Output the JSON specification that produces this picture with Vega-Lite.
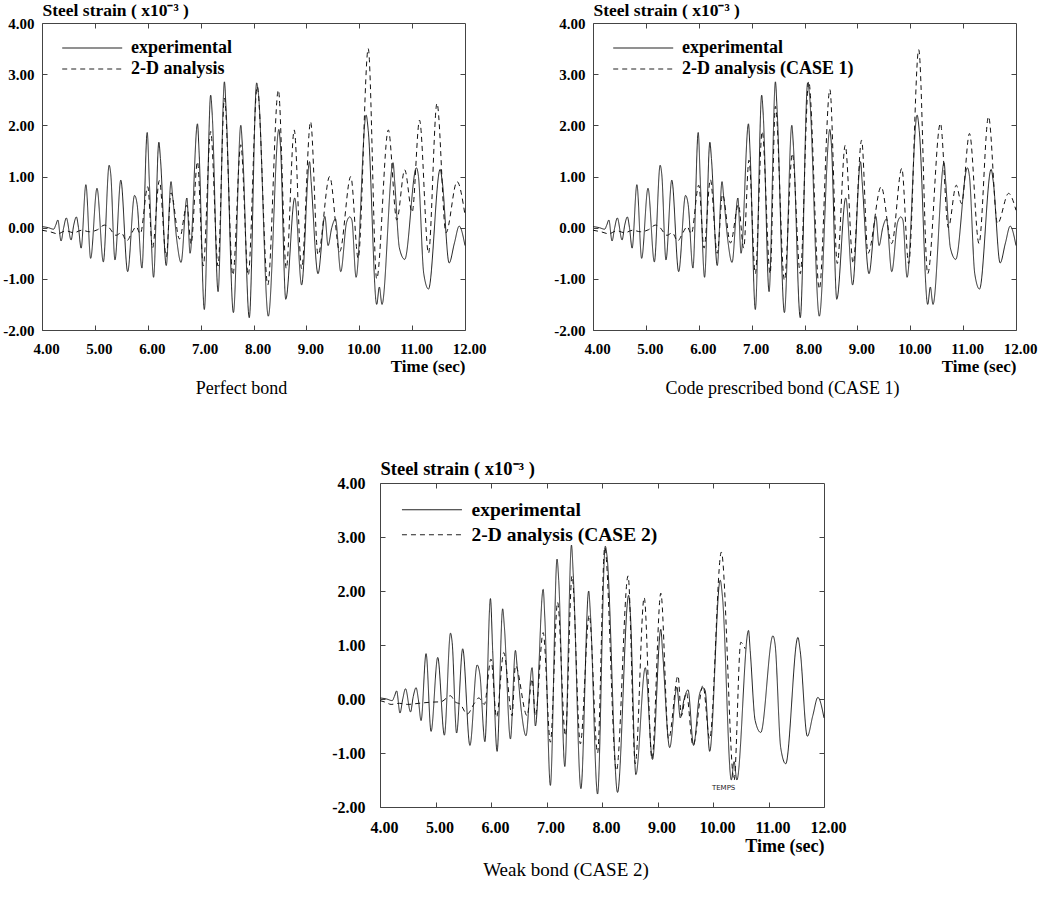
{
  "$schema": "https://vega.github.io/schema/vega-lite/v6.json",
  "background": "white",
  "padding": {"left": 2, "top": 0, "right": 2, "bottom": 0},
  "config": {
    "view": {"stroke": "#444", "strokeWidth": 1},
    "axis": {"grid": false, "domain": false, "tickSize": -5, "tickColor": "#444", "labelFont": "Liberation Serif", "labelFontWeight": "bold", "labelColor": "#000", "labelFlush": false, "labelOverlap": false, "titleFont": "Liberation Serif", "titleFontWeight": "bold", "titleColor": "#000"},
    "legend": {"orient": "top-left", "symbolType": "M-0.6,0H6.9", "symbolSize": 256, "symbolStrokeWidth": 1.2, "symbolStrokeColor": "#222", "labelFont": "Liberation Serif", "labelFontWeight": "bold", "labelColor": "#000", "labelFontSize": 18, "labelLimit": 400, "labelOffset": 55, "offset": 16, "padding": 0, "rowPadding": 3},
    "title": {"font": "Liberation Serif", "fontWeight": "normal", "color": "#000", "orient": "bottom", "fontSize": 18, "anchor": "middle"}
  },
  "datasets": {
    "exp": [
      {"t":4.00,"v":0.02},{"t":4.12,"v":0.00},{"t":4.22,"v":-0.03},{"t":4.26,"v":0.05},{"t":4.30,"v":0.15},{"t":4.36,"v":-0.26},{"t":4.41,"v":0.0},{"t":4.46,"v":0.19},{"t":4.55,"v":-0.24},{"t":4.60,"v":0.05},{"t":4.65,"v":0.21},{"t":4.69,"v":0.0},{"t":4.74,"v":-0.40},{"t":4.83,"v":0.84},{"t":4.92,"v":-0.60},{"t":5.04,"v":0.77},{"t":5.16,"v":-0.67},{"t":5.27,"v":1.22},{"t":5.30,"v":1.05},{"t":5.38,"v":-0.63},{"t":5.49,"v":0.93},{"t":5.62,"v":-0.86},{"t":5.75,"v":0.63},{"t":5.80,"v":0.45},{"t":5.89,"v":-0.79},{"t":5.99,"v":1.86},{"t":6.03,"v":0.9},{"t":6.11,"v":-0.97},{"t":6.21,"v":1.67},{"t":6.24,"v":1.35},{"t":6.35,"v":-0.74},{"t":6.44,"v":0.90},{"t":6.47,"v":0.62},{"t":6.55,"v":-0.25},{"t":6.63,"v":-0.68},{"t":6.74,"v":0.58},{"t":6.80,"v":-0.50},{"t":6.94,"v":2.03},{"t":6.97,"v":1.5},{"t":7.07,"v":-1.60},{"t":7.19,"v":2.59},{"t":7.22,"v":2.2},{"t":7.33,"v":-1.25},{"t":7.45,"v":2.85},{"t":7.48,"v":2.35},{"t":7.62,"v":-1.66},{"t":7.76,"v":2.00},{"t":7.79,"v":1.6},{"t":7.92,"v":-1.76},{"t":8.06,"v":2.83},{"t":8.09,"v":2.65},{"t":8.28,"v":-1.73},{"t":8.48,"v":1.92},{"t":8.51,"v":1.6},{"t":8.61,"v":-1.40},{"t":8.78,"v":0.58},{"t":8.91,"v":-1.12},{"t":9.06,"v":1.29},{"t":9.09,"v":0.9},{"t":9.22,"v":-0.90},{"t":9.35,"v":0.22},{"t":9.41,"v":-0.35},{"t":9.48,"v":0.0},{"t":9.55,"v":0.17},{"t":9.65,"v":-0.86},{"t":9.76,"v":0.1},{"t":9.82,"v":0.21},{"t":9.86,"v":0.15},{"t":9.94,"v":-0.97},{"t":10.13,"v":2.20},{"t":10.17,"v":1.9},{"t":10.33,"v":-1.50},{"t":10.38,"v":-1.16},{"t":10.43,"v":-1.50},{"t":10.64,"v":1.27},{"t":10.67,"v":0.9},{"t":10.76,"v":-0.4},{"t":10.86,"v":-0.62},{"t":11.08,"v":1.17},{"t":11.12,"v":1.0},{"t":11.22,"v":-0.9},{"t":11.31,"v":-1.20},{"t":11.53,"v":1.14},{"t":11.57,"v":0.9},{"t":11.70,"v":-0.69},{"t":11.80,"v":-0.3},{"t":11.89,"v":0.03},{"t":12.00,"v":-0.35}
    ],
    "a0": [
      {"t":4.00,"v":-0.05},{"t":4.15,"v":-0.08},{"t":4.30,"v":-0.12},{"t":4.45,"v":-0.06},{"t":4.60,"v":-0.10},{"t":4.75,"v":-0.05},{"t":4.90,"v":-0.08},{"t":5.05,"v":-0.04},{"t":5.18,"v":0.05},{"t":5.25,"v":0.02},{"t":5.40,"v":-0.15},{"t":5.50,"v":-0.10},{"t":5.60,"v":-0.26},{"t":5.70,"v":-0.10},{"t":5.78,"v":0.02},{"t":5.86,"v":-0.12},{"t":6.00,"v":0.80},{"t":6.09,"v":-0.40},{"t":6.22,"v":0.92},{"t":6.35,"v":-0.57},{"t":6.44,"v":0.68},{"t":6.60,"v":-0.22},{"t":6.74,"v":0.44},{"t":6.82,"v":-0.32},{"t":6.94,"v":1.29},{"t":7.05,"v":-0.75},{"t":7.19,"v":1.88},{"t":7.33,"v":-0.75},{"t":7.45,"v":2.53},{"t":7.61,"v":-0.93},{"t":7.76,"v":1.62},{"t":7.90,"v":-0.93},{"t":8.07,"v":2.76},{"t":8.27,"v":-1.12},{"t":8.47,"v":2.69},{"t":8.62,"v":-0.80},{"t":8.77,"v":1.91},{"t":8.91,"v":-0.80},{"t":9.08,"v":2.07},{"t":9.22,"v":-0.53},{"t":9.44,"v":1.00},{"t":9.63,"v":-0.47},{"t":9.84,"v":1.00},{"t":9.98,"v":-0.60},{"t":10.17,"v":3.50},{"t":10.33,"v":-1.00},{"t":10.55,"v":1.91},{"t":10.71,"v":0.15},{"t":10.86,"v":1.13},{"t":11.00,"v":0.30},{"t":11.14,"v":2.10},{"t":11.31,"v":-0.50},{"t":11.47,"v":2.43},{"t":11.64,"v":-0.10},{"t":11.85,"v":0.90},{"t":12.00,"v":0.25}
    ],
    "a1": [
      {"t":4.00,"v":-0.05},{"t":4.15,"v":-0.08},{"t":4.30,"v":-0.12},{"t":4.45,"v":-0.06},{"t":4.60,"v":-0.10},{"t":4.75,"v":-0.05},{"t":4.90,"v":-0.08},{"t":5.05,"v":-0.04},{"t":5.18,"v":0.05},{"t":5.25,"v":0.02},{"t":5.40,"v":-0.15},{"t":5.50,"v":-0.10},{"t":5.60,"v":-0.26},{"t":5.70,"v":-0.10},{"t":5.78,"v":0.02},{"t":5.86,"v":-0.12},{"t":6.00,"v":0.83},{"t":6.10,"v":-0.40},{"t":6.22,"v":0.94},{"t":6.35,"v":-0.50},{"t":6.45,"v":0.65},{"t":6.60,"v":-0.30},{"t":6.75,"v":0.45},{"t":6.85,"v":-0.40},{"t":6.95,"v":1.32},{"t":7.07,"v":-0.90},{"t":7.20,"v":1.88},{"t":7.35,"v":-0.90},{"t":7.45,"v":2.37},{"t":7.62,"v":-1.03},{"t":7.77,"v":1.45},{"t":7.92,"v":-0.90},{"t":8.08,"v":2.86},{"t":8.28,"v":-1.20},{"t":8.48,"v":2.70},{"t":8.62,"v":-0.70},{"t":8.77,"v":1.61},{"t":8.92,"v":-0.70},{"t":9.08,"v":1.71},{"t":9.20,"v":-0.50},{"t":9.45,"v":0.80},{"t":9.65,"v":-0.31},{"t":9.84,"v":1.16},{"t":9.97,"v":-0.70},{"t":10.16,"v":3.48},{"t":10.33,"v":-0.90},{"t":10.57,"v":2.04},{"t":10.72,"v":0.00},{"t":10.87,"v":0.83},{"t":10.97,"v":0.47},{"t":11.12,"v":1.84},{"t":11.30,"v":-0.31},{"t":11.48,"v":2.17},{"t":11.65,"v":0.08},{"t":11.86,"v":0.67},{"t":12.00,"v":0.34}
    ],
    "a2": [
      {"t":4.00,"v":-0.03},{"t":4.10,"v":-0.06},{"t":4.20,"v":-0.10},{"t":4.35,"v":-0.08},{"t":4.50,"v":-0.10},{"t":4.70,"v":-0.08},{"t":4.90,"v":-0.06},{"t":5.10,"v":-0.05},{"t":5.27,"v":0.06},{"t":5.35,"v":-0.05},{"t":5.45,"v":-0.10},{"t":5.57,"v":-0.28},{"t":5.70,"v":-0.08},{"t":5.78,"v":0.02},{"t":5.88,"v":-0.10},{"t":6.00,"v":0.74},{"t":6.10,"v":-0.34},{"t":6.23,"v":0.86},{"t":6.38,"v":-0.31},{"t":6.44,"v":0.62},{"t":6.65,"v":-0.31},{"t":6.74,"v":0.37},{"t":6.80,"v":-0.31},{"t":6.94,"v":1.23},{"t":7.07,"v":-0.80},{"t":7.20,"v":1.79},{"t":7.34,"v":-0.68},{"t":7.46,"v":2.28},{"t":7.61,"v":-0.83},{"t":7.77,"v":1.55},{"t":7.92,"v":-1.00},{"t":8.05,"v":2.81},{"t":8.26,"v":-1.33},{"t":8.47,"v":2.28},{"t":8.60,"v":-1.20},{"t":8.76,"v":1.88},{"t":8.90,"v":-1.11},{"t":9.06,"v":1.96},{"t":9.20,"v":-0.74},{"t":9.37,"v":0.43},{"t":9.43,"v":-0.31},{"t":9.52,"v":0.12},{"t":9.64,"v":-0.86},{"t":9.82,"v":0.25},{"t":9.94,"v":-0.74},{"t":10.15,"v":2.72},{"t":10.38,"v":-1.51},{"t":10.50,"v":1.05},{"t":10.58,"v":0.93}
    ],
    "temps": [{"t": 9.98, "v": -1.64, "label": "TEMPS"}]
  },
  "spacing": 59,
  "resolve": {"scale": {"strokeDash": "independent"}, "legend": {"strokeDash": "independent"}},
  "vconcat": [
    {
      "hconcat": [
        {
          "width": 423, "height": 307,
          "title": {"text": "Perfect bond", "dx": -12, "offset": 6},
          "layer": [
            {
              "data": {"name": "exp"},
              "mark": {"type": "line", "color": "#222", "strokeWidth": 1, "interpolate": "monotone"},
              "encoding": {
                "x": {"field": "t", "type": "quantitative", "scale": {"domain": [4, 12], "nice": false, "zero": false},
                  "axis": {"orient": "bottom", "values": [4,5,6,7,8,9,10,11,12], "labelExpr": "datum.value < 0 ? '-' + format(abs(datum.value), '.2f') : format(datum.value, '.2f')", "labelFontSize": 15, "labelPadding": 16, "labelOffset": 4, "title": "Time (sec)", "titleFontSize": 17, "titleAnchor": "end", "titlePadding": 2}},
                "y": {"field": "v", "type": "quantitative", "scale": {"domain": [-2, 4], "nice": false, "zero": false},
                  "axis": {"orient": "left", "values": [-2,-1,0,1,2,3,4], "labelExpr": "datum.value < 0 ? '-' + format(abs(datum.value), '.2f') : format(datum.value, '.2f')", "labelFontSize": 15, "labelPadding": 13, "title": "Steel strain ( x10⁻³ )", "titleFontSize": 17.5, "titleAngle": 0, "titleAlign": "left", "titleBaseline": "alphabetic", "titleX": 0, "titleY": -8}},
                "strokeDash": {"datum": "experimental", "scale": {"domain": ["experimental", "2-D analysis"], "range": [[1, 0], [5, 4]]}, "legend": {"title": null}}
              }
            },
            {
              "data": {"name": "a0"},
              "mark": {"type": "line", "color": "#111", "strokeWidth": 1, "interpolate": "monotone"},
              "encoding": {
                "x": {"field": "t", "type": "quantitative", "axis": null},
                "y": {"field": "v", "type": "quantitative", "axis": null},
                "strokeDash": {"datum": "2-D analysis"}
              }
            },
            {
              "data": {"name": "exp"},
              "mark": {"type": "line", "opacity": 0},
              "encoding": {
                "x": {"field": "t", "type": "quantitative", "axis": {"orient": "top", "values": [5,6,7,8,9,10,11], "labels": false, "title": null}},
                "y": {"field": "v", "type": "quantitative", "axis": {"orient": "right", "values": [-1,0,1,2,3], "labels": false, "title": null}}
              }
            }
          ],
          "resolve": {"axis": {"x": "independent", "y": "independent"}}
        },
        {
          "width": 423, "height": 307,
          "title": {"text": "Code prescribed bond (CASE 1)", "dx": -22, "offset": 6},
          "layer": [
            {
              "data": {"name": "exp"},
              "mark": {"type": "line", "color": "#222", "strokeWidth": 1, "interpolate": "monotone"},
              "encoding": {
                "x": {"field": "t", "type": "quantitative", "scale": {"domain": [4, 12], "nice": false, "zero": false},
                  "axis": {"orient": "bottom", "values": [4,5,6,7,8,9,10,11,12], "labelExpr": "datum.value < 0 ? '-' + format(abs(datum.value), '.2f') : format(datum.value, '.2f')", "labelFontSize": 15, "labelPadding": 16, "labelOffset": 4, "title": "Time (sec)", "titleFontSize": 17, "titleAnchor": "end", "titlePadding": 2}},
                "y": {"field": "v", "type": "quantitative", "scale": {"domain": [-2, 4], "nice": false, "zero": false},
                  "axis": {"orient": "left", "values": [-2,-1,0,1,2,3,4], "labelExpr": "datum.value < 0 ? '-' + format(abs(datum.value), '.2f') : format(datum.value, '.2f')", "labelFontSize": 15, "labelPadding": 13, "title": "Steel strain ( x10⁻³ )", "titleFontSize": 17.5, "titleAngle": 0, "titleAlign": "left", "titleBaseline": "alphabetic", "titleX": 0, "titleY": -8}},
                "strokeDash": {"datum": "experimental", "scale": {"domain": ["experimental", "2-D analysis (CASE 1)"], "range": [[1, 0], [5, 4]]}, "legend": {"title": null}}
              }
            },
            {
              "data": {"name": "a1"},
              "mark": {"type": "line", "color": "#111", "strokeWidth": 1, "interpolate": "monotone"},
              "encoding": {
                "x": {"field": "t", "type": "quantitative", "axis": null},
                "y": {"field": "v", "type": "quantitative", "axis": null},
                "strokeDash": {"datum": "2-D analysis (CASE 1)"}
              }
            },
            {
              "data": {"name": "exp"},
              "mark": {"type": "line", "opacity": 0},
              "encoding": {
                "x": {"field": "t", "type": "quantitative", "axis": {"orient": "top", "values": [5,6,7,8,9,10,11], "labels": false, "title": null}},
                "y": {"field": "v", "type": "quantitative", "axis": {"orient": "right", "values": [-1,0,1,2,3], "labels": false, "title": null}}
              }
            }
          ],
          "resolve": {"axis": {"x": "independent", "y": "independent"}}
        }
      ],
      "spacing": 66,
      "resolve": {"scale": {"strokeDash": "independent"}, "legend": {"strokeDash": "independent"}}
    },
    {
      "hconcat": [
        {
          "width": 289, "height": 10,
          "data": {"values": []},
          "mark": "point",
          "view": {"stroke": null}
        },
        {
          "width": 444, "height": 324,
          "title": {"text": "Weak bond (CASE 2)", "dx": -36, "offset": 6, "fontSize": 19},
          "layer": [
            {
              "data": {"name": "exp"},
              "mark": {"type": "line", "color": "#222", "strokeWidth": 1, "interpolate": "monotone"},
              "encoding": {
                "x": {"field": "t", "type": "quantitative", "scale": {"domain": [4, 12], "nice": false, "zero": false},
                  "axis": {"orient": "bottom", "values": [4,5,6,7,8,9,10,11,12], "labelExpr": "datum.value < 0 ? '-' + format(abs(datum.value), '.2f') : format(datum.value, '.2f')", "labelFontSize": 16, "labelPadding": 17, "labelOffset": 4, "title": "Time (sec)", "titleFontSize": 18, "titleAnchor": "end", "titlePadding": 2}},
                "y": {"field": "v", "type": "quantitative", "scale": {"domain": [-2, 4], "nice": false, "zero": false},
                  "axis": {"orient": "left", "values": [-2,-1,0,1,2,3,4], "labelExpr": "datum.value < 0 ? '-' + format(abs(datum.value), '.2f') : format(datum.value, '.2f')", "labelFontSize": 16, "labelPadding": 20, "title": "Steel strain ( x10⁻³ )", "titleFontSize": 18.5, "titleAngle": 0, "titleAlign": "left", "titleBaseline": "alphabetic", "titleX": 0, "titleY": -9}},
                "strokeDash": {"datum": "experimental", "scale": {"domain": ["experimental", "2-D analysis (CASE 2)"], "range": [[1, 0], [5, 4]]}, "legend": {"title": null, "labelFontSize": 19.5, "offset": 17, "rowPadding": 4}}
              }
            },
            {
              "data": {"name": "a2"},
              "mark": {"type": "line", "color": "#111", "strokeWidth": 1, "interpolate": "monotone"},
              "encoding": {
                "x": {"field": "t", "type": "quantitative", "axis": null},
                "y": {"field": "v", "type": "quantitative", "axis": null},
                "strokeDash": {"datum": "2-D analysis (CASE 2)"}
              }
            },
            {
              "data": {"name": "temps"},
              "mark": {"type": "text", "font": "DejaVu Sans", "fontSize": 7, "align": "left", "baseline": "middle", "color": "#222"},
              "encoding": {
                "x": {"field": "t", "type": "quantitative", "axis": null},
                "y": {"field": "v", "type": "quantitative", "axis": null},
                "text": {"field": "label"}
              }
            },
            {
              "data": {"name": "exp"},
              "mark": {"type": "line", "opacity": 0},
              "encoding": {
                "x": {"field": "t", "type": "quantitative", "axis": {"orient": "top", "values": [5,6,7,8,9,10,11], "labels": false, "title": null}},
                "y": {"field": "v", "type": "quantitative", "axis": {"orient": "right", "values": [-1,0,1,2,3], "labels": false, "title": null}}
              }
            }
          ],
          "resolve": {"axis": {"x": "independent", "y": "independent"}}
        }
      ],
      "spacing": 0,
      "resolve": {"scale": {"strokeDash": "independent"}, "legend": {"strokeDash": "independent"}}
    }
  ]
}
